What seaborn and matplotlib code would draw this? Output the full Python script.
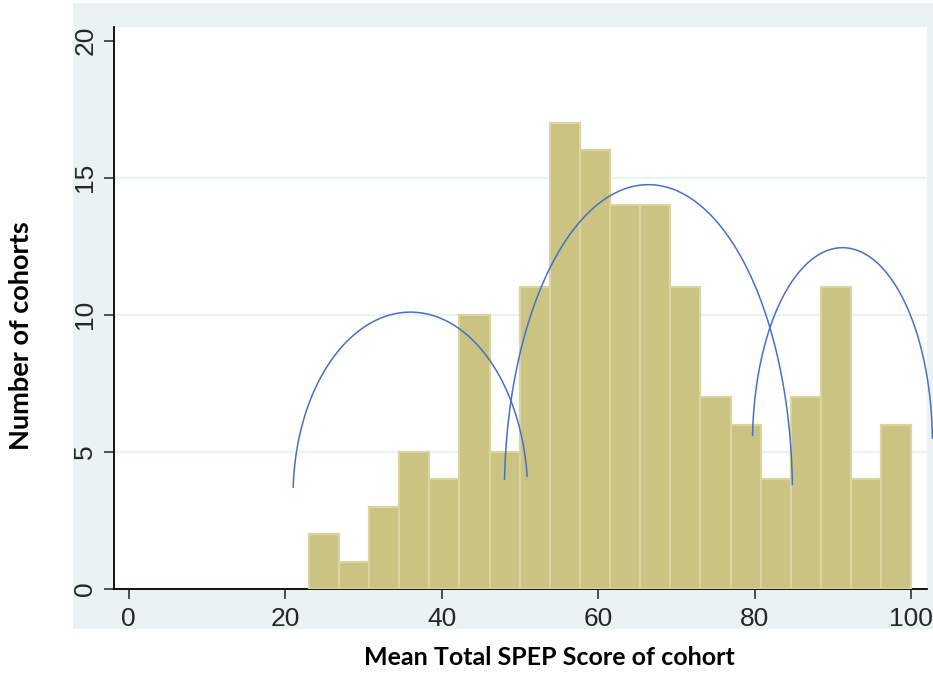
import numpy as np
import pandas as pd
import matplotlib
matplotlib.use('Agg')
import matplotlib.pyplot as plt
import seaborn as sns
from matplotlib.patches import Rectangle

# 直方图数据 (20 个分箱, 23 ~ 100)
bin_start, bin_end, n_bins = 23.0, 100.0, 20
counts = [2, 1, 3, 5, 4, 10, 5, 11, 17, 16, 14, 14, 11, 7, 6, 4, 7, 11, 4, 6]

# 手绘的三段蓝色弧线 (椭圆上半部分): 中心x, 中心y, 半宽, 高, 左端/右端角度
arc_cx = [36.0, 66.4, 91.2]
arc_cy = [3.4, 3.5, 5.3]
arc_a = [15.0, 18.4, 11.5]
arc_b = [6.7, 11.25, 7.15]
arc_t0 = [0.105, 0.027, 0.028]
arc_t1 = [np.pi - 0.045, np.pi - 0.044, np.pi - 0.042]

x_ticks = [0, 20, 40, 60, 80, 100]
y_ticks = [0, 5, 10, 15, 20]
x_label = "Mean Total SPEP Score of cohort"
y_label = "Number of cohorts"

sns.set_style("white")
plt.rcParams['font.family'] = ['Liberation Sans', 'DejaVu Sans']

bg_color = '#EAF2F3'
bar_color = '#CBC382'
bar_edge = '#DAD4A0'
arc_color = '#4472C4'

bin_w = (bin_end - bin_start) / n_bins
centers = bin_start + bin_w * (np.arange(n_bins) + 0.5)
df = pd.DataFrame({'score': centers, 'n': counts})

fig = plt.figure(figsize=(9.33, 6.88), dpi=100, facecolor='white')
# Stata 风格外框背景
fig.patches.append(Rectangle((73 / 933, 1 - 629 / 688), 1 - 73 / 933, (629 - 3) / 688,
                             transform=fig.transFigure, facecolor=bg_color,
                             edgecolor='none', zorder=-10))
ax = fig.add_axes([114 / 933, 1 - 589 / 688, (927 - 114) / 933, (589 - 27) / 688])
ax.set_zorder(1)
ax.set_facecolor('white')

sns.histplot(data=df, x='score', weights='n', binwidth=bin_w, binrange=(bin_start, bin_end),
             ax=ax, color=bar_color, alpha=1, edgecolor=bar_edge, linewidth=1.6, zorder=3)

for cx, cy, a, b, t0, t1 in zip(arc_cx, arc_cy, arc_a, arc_b, arc_t0, arc_t1):
    t = np.linspace(t0, t1, 300)
    ax.plot(cx + a * np.cos(t), cy + b * np.sin(t), color=arc_color, lw=1.1,
            zorder=5, clip_on=False)

ax.set_xlim(-1.88, 102.0)
ax.set_ylim(0, 20.5)
ax.set_xticks(x_ticks)
ax.set_yticks(y_ticks)
ax.set_yticklabels([str(v) for v in y_ticks], rotation=90, va='center')
ax.tick_params(axis='both', direction='out', length=7, width=1.2, color='#333333',
               labelsize=19, left=True, bottom=True)
ax.tick_params(axis='x', pad=6)
ax.tick_params(axis='y', pad=5)

ax.yaxis.grid(True, color=bg_color, linewidth=1.6, zorder=0)
ax.set_axisbelow(True)
ax.get_ygridlines()[-1].set_visible(False)

ax.spines[['top', 'right']].set_visible(False)
ax.spines[['left', 'bottom']].set_color('black')
ax.spines[['left', 'bottom']].set_linewidth(1.3)
ax.set_xlabel('')
ax.set_ylabel('')

fig.text(549 / 933, 1 - 665 / 688, x_label, ha='center', va='baseline', color='black',
         fontsize=18, fontweight='bold', family=['Lato', 'DejaVu Sans'])
fig.text(21 / 933, 1 - 336 / 688, y_label, ha='center', va='center', rotation=90,
         color='black', fontsize=19.5, fontweight='bold', family=['Lato', 'DejaVu Sans'])

fig.savefig('out.png', dpi=100, facecolor='white')
